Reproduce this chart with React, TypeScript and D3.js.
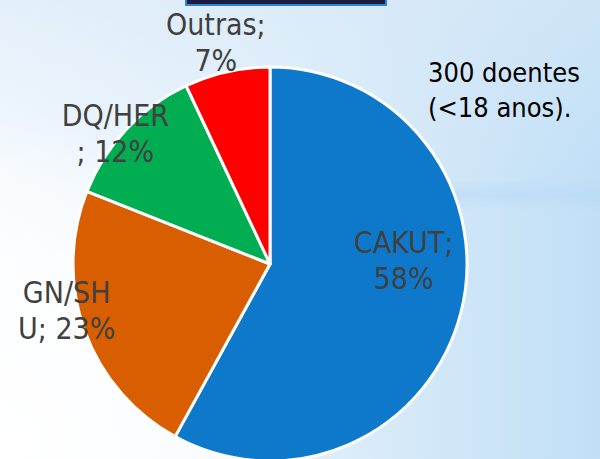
import React from "react";
import * as d3 from "d3";

// ---- data ----
const categories = ["CAKUT", "GN/SHU", "DQ/HER", "Outras"];
const values = [58, 23, 12, 7];
const labelLines = [
  ["CAKUT;", "58%"],
  ["GN/SH", "U; 23%"],
  ["DQ/HER", "; 12%"],
  ["Outras;", "7%"],
];
const noteLines = ["300 doentes", "(<18 anos)."];

// ---- styles / layout ----
const colors = ["#0E79CB", "#D95E00", "#00AD50", "#FF0000"];
const labelRadiusFactor = [0.7, 1.07, 1.07, 1.12];
const labelNudge: [number, number][] = [
  [0, -38],
  [-5, -25],
  [-1, 13],
  [-6, -7],
];

const W = 600;
const H = 459;
const cx = 270;
const cy = 264;
const R = 197;

export default function App() {
  const pie = d3
    .pie<number>()
    .sort(null)
    .value((d) => d);
  const arcs = pie(values);
  const arc = d3.arc<d3.PieArcDatum<number>>().innerRadius(0).outerRadius(R);

  const font = "'DejaVu Sans Condensed', 'DejaVu Sans', sans-serif";

  return (
    <svg
      width={W}
      height={H}
      style={{ position: "fixed", left: 0, top: 0, display: "block" }}
    >
      <defs>
        <linearGradient id="bgH" x1="0" y1="0" x2="1" y2="0">
          <stop offset="0" stopColor="#f4f9fe" />
          <stop offset="0.45" stopColor="#e4f0fb" />
          <stop offset="1" stopColor="#c0dff6" />
        </linearGradient>
        <linearGradient id="bgTop" x1="0" y1="0" x2="0" y2="1">
          <stop offset="0" stopColor="#d8e9f8" stopOpacity="0.6" />
          <stop offset="0.4" stopColor="#d8e9f8" stopOpacity="0" />
        </linearGradient>
        <radialGradient
          id="bgWhite"
          cx="0"
          cy="1"
          r="1"
          gradientUnits="objectBoundingBox"
          gradientTransform="translate(0,1) scale(0.55,0.75) translate(0,-1)"
        >
          <stop offset="0" stopColor="#ffffff" stopOpacity="1" />
          <stop offset="0.6" stopColor="#ffffff" stopOpacity="0.75" />
          <stop offset="1" stopColor="#ffffff" stopOpacity="0" />
        </radialGradient>
        <linearGradient id="streak" x1="0" y1="0" x2="0" y2="1">
          <stop offset="0" stopColor="#b8dbf5" stopOpacity="0" />
          <stop offset="0.5" stopColor="#b8dbf5" stopOpacity="0.6" />
          <stop offset="1" stopColor="#b8dbf5" stopOpacity="0" />
        </linearGradient>
        <linearGradient id="streakFade" x1="0" y1="0" x2="1" y2="0">
          <stop offset="0" stopColor="#ffffff" stopOpacity="0" />
          <stop offset="0.3" stopColor="#ffffff" stopOpacity="1" />
        </linearGradient>
        <mask id="streakMask">
          <rect x={300} y={170} width={W - 300} height={50} fill="url(#streakFade)" />
        </mask>
      </defs>
      <rect x={0} y={0} width={W} height={H} fill="url(#bgH)" />
      <rect x={0} y={0} width={W} height={H} fill="url(#bgTop)" />
      <rect x={0} y={0} width={W} height={H} fill="url(#bgWhite)" />
      <rect
        x={300}
        y={180}
        width={W - 300}
        height={30}
        fill="url(#streak)"
        mask="url(#streakMask)"
      />

      {/* top dark box (cut off) */}
      <rect
        x={186}
        y={-10}
        width={200}
        height={15}
        fill="#1b1c3f"
        stroke="#2a86d6"
        strokeWidth={2}
      />

      <g transform={`translate(${cx},${cy})`}>
        {arcs.map((a, i) => (
          <path
            key={categories[i]}
            d={arc(a) || ""}
            fill={colors[i]}
            stroke="#ffffff"
            strokeWidth={3}
            strokeLinejoin="round"
          />
        ))}
      </g>

      {arcs.map((a, i) => {
        const lr = R * labelRadiusFactor[i];
        const [px, py] = d3
          .arc<d3.PieArcDatum<number>>()
          .innerRadius(lr)
          .outerRadius(lr)
          .centroid(a);
        const x = cx + px + labelNudge[i][0];
        const y = cy + py + labelNudge[i][1];
        return (
          <text
            key={"l" + i}
            textAnchor="middle"
            fontFamily={font}
            fontSize={30}
            fill="#404040"
          >
            <tspan x={x} y={y - 7}>
              {labelLines[i][0]}
            </tspan>
            <tspan x={x} y={y + 29}>
              {labelLines[i][1]}
            </tspan>
          </text>
        );
      })}

      <text fontFamily={font} fontSize={27} fill="#000000">
        <tspan x={428} y={82}>
          {noteLines[0]}
        </tspan>
        <tspan x={428} y={117}>
          {noteLines[1]}
        </tspan>
      </text>
    </svg>
  );
}
